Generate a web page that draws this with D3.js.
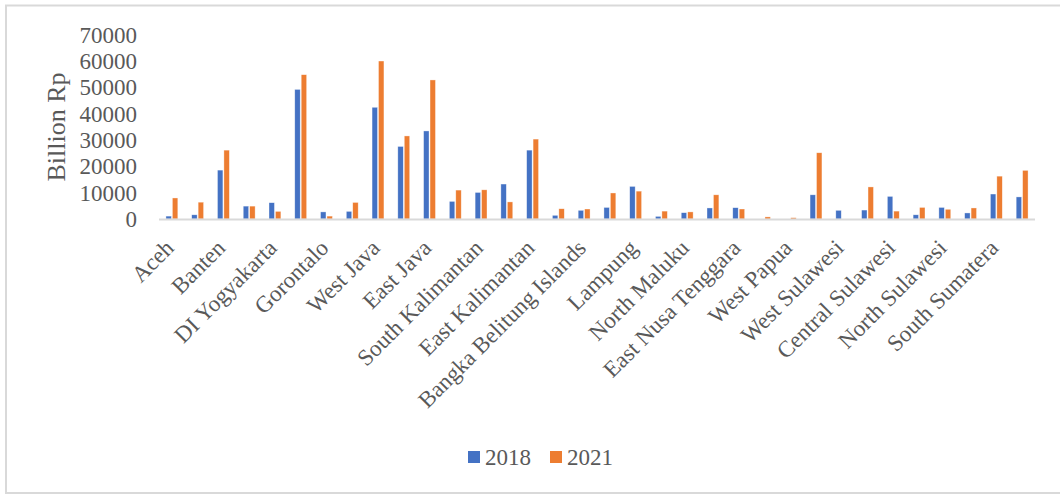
<!DOCTYPE html>
<html>
<head>
<meta charset="utf-8">
<script src="https://cdn.jsdelivr.net/npm/d3@7"></script>
<style>
  body { margin: 0; background: #fff; }
  text { font-family: "Liberation Serif", "Times New Roman", serif; fill: #595959; }
</style>
</head>
<body>
<div id="chart"></div>
<script>
// provinces in the order of the source table
var provinces = ["Aceh", "Bali", "Banten", "Bengkulu", "DI Yogyakarta", "DKI Jakarta",
  "Gorontalo", "Jambi", "West Java", "Central Java", "East Java", "West Kalimantan",
  "South Kalimantan", "Central Kalimantan", "East Kalimantan", "North Kalimantan",
  "Bangka Belitung Islands", "Riau Islands", "Lampung", "Maluku", "North Maluku",
  "West Nusa Tenggara", "East Nusa Tenggara", "Papua", "West Papua", "Riau",
  "West Sulawesi", "South Sulawesi", "Central Sulawesi", "Southeast Sulawesi",
  "North Sulawesi", "West Sumatera", "South Sumatera", "North Sumatera"];

var series = ["2018", "2021"];

var values2018 = [1100, 1600, 18600, 4900, 6200, 49300, 2700, 2900, 42500, 27600,
  33500, 6700, 10100, 13300, 26200, 1400, 3300, 4400, 12400, 1000, 2400, 4200,
  4300, 0, 0, 9200, 3300, 3400, 8600, 1600, 4400, 2300, 9500, 8400];

var values2021 = [8000, 6400, 26200, 4900, 2900, 54900, 1100, 6300, 60100, 31600,
  52900, 11000, 11100, 6500, 30400, 3900, 3800, 9900, 10600, 3000, 2700, 9200,
  3800, 800, 500, 25200, 0, 12200, 3000, 4400, 3700, 4200, 16300, 18500];

var yTicks = [0, 10000, 20000, 30000, 40000, 50000, 60000, 70000];

var colors = ["#4472C4", "#ED7D31"];

var W = 1060, H = 494;
var margin = { left: 159, right: 25, top: 35, bottom: 275 };
var w = W - margin.left - margin.right;
var h = H - margin.top - margin.bottom;

var svg = d3.select("#chart").append("svg")
    .attr("width", W)
    .attr("height", H);

// chart frame
svg.append("path")
    .attr("d", "M" + W + ",5.5 H6 V493 H" + W)
    .attr("fill", "none")
    .attr("stroke", "#d9d9d9")
    .attr("stroke-width", 2);

var g = svg.append("g")
    .attr("transform", "translate(" + margin.left + "," + margin.top + ")");

var x = d3.scaleBand()
    .domain(provinces)
    .range([0, w]);

var x1 = d3.scaleBand()
    .domain(series)
    .range([x.bandwidth() / 4, x.bandwidth() * 3 / 4]);

var y = d3.scaleLinear()
    .domain([0, 70000])
    .range([h, 0]);

// y axis labels, no line
var yAxis = g.append("g")
    .call(d3.axisLeft(y).tickValues(yTicks).tickFormat(d3.format("d"))
        .tickSize(0).tickPadding(22));
yAxis.select(".domain").remove();
yAxis.selectAll("text")
    .attr("font-size", 23)
    .attr("font-family", "Liberation Serif")
    .attr("fill", "#595959");

g.append("text")
    .attr("transform", "rotate(-90)")
    .attr("x", -h / 2)
    .attr("y", -94)
    .attr("font-size", 26)
    .attr("text-anchor", "middle")
    .text("Billion Rp");

var data = provinces.map(function(p, i) {
    return { name: p, vals: [values2018[i], values2021[i]] };
});

var groups = g.selectAll(".grp")
    .data(data)
    .enter()
    .append("g")
    .attr("class", "grp")
    .attr("transform", function(d) { return "translate(" + x(d.name) + ",0)"; });

groups.selectAll("rect")
    .data(function(d) {
        return d.vals.map(function(v, k) { return { s: series[k], v: v, k: k }; });
    })
    .enter()
    .append("rect")
    .attr("x", function(d) { return x1(d.s) + 0.5; })
    .attr("width", x1.bandwidth() - 1)
    .attr("y", function(d) { return y(d.v); })
    .attr("height", function(d) { return h - y(d.v); })
    .attr("fill", function(d) { return colors[d.k]; })
    .attr("stroke", "#fff")
    .attr("stroke-opacity", 0.6)
    .attr("stroke-width", 0.6);

// category axis line
g.append("line")
    .attr("x1", 0)
    .attr("x2", w)
    .attr("y1", h + 0.5)
    .attr("y2", h + 0.5)
    .attr("stroke", "#d9d9d9")
    .attr("stroke-width", 2);

// every other label is shown, as in the original
var xAxis = g.append("g")
    .attr("transform", "translate(0," + h + ")")
    .call(d3.axisBottom(x).tickSize(0)
        .tickValues(provinces.filter(function(p, i) { return i % 2 === 0; })));
xAxis.select(".domain").remove();
xAxis.selectAll("text")
    .attr("font-size", 23)
    .attr("font-family", "Liberation Serif")
    .attr("fill", "#595959")
    .attr("text-anchor", "end")
    .attr("dy", 0)
    .attr("y", 0)
    .attr("transform", "translate(-8,19) rotate(-45)")
    .attr("dominant-baseline", "hanging");

// legend
var legend = svg.append("g")
    .attr("transform", "translate(468,451)");

var li = legend.selectAll("g")
    .data(series)
    .enter()
    .append("g")
    .attr("transform", function(d, i) { return "translate(" + (i * 82) + ",0)"; });

li.append("rect")
    .attr("width", 12)
    .attr("height", 12)
    .attr("fill", function(d, i) { return colors[i]; });

li.append("text")
    .attr("x", 17)
    .attr("y", 14)
    .attr("font-size", 23)
    .text(function(d) { return d; });
</script>
</body>
</html>
